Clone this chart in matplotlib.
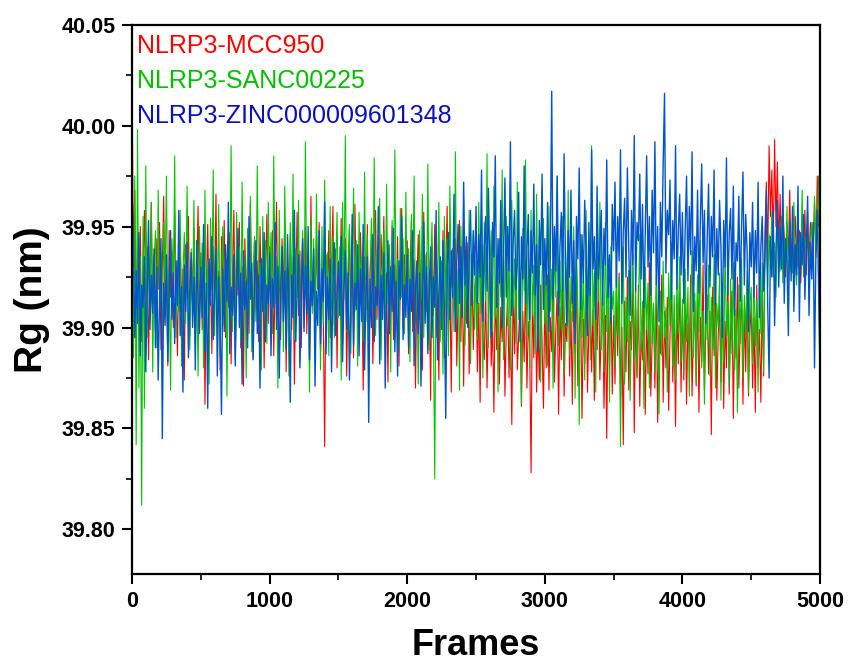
import numpy as np
import matplotlib
matplotlib.use("Agg")
import matplotlib.pyplot as plt
from matplotlib.ticker import MultipleLocator

plt.rcParams['font.family'] = ['Liberation Sans', 'DejaVu Sans']

frames = np.arange(0, 5001, 10)

rg_mcc950 = [
    40.022, 39.935, 39.968, 39.902, 39.945, 39.912, 39.950, 39.893, 39.931, 39.958,
    39.905, 39.940, 39.884, 39.927, 39.962, 39.910, 39.936, 39.898, 39.944, 39.919,
    39.952, 39.889, 39.930, 39.965, 39.907, 39.925, 39.881, 39.948, 39.915, 39.938,
    39.900, 39.957, 39.921, 39.886, 39.934, 39.946, 39.909, 39.929, 39.874, 39.941,
    39.917, 39.955, 39.896, 39.933, 39.911, 39.949, 39.892, 39.926, 39.960, 39.904,
    39.937, 39.899, 39.943, 39.862, 39.918, 39.951, 39.906, 39.932, 39.887, 39.940,
    39.913, 39.966, 39.901, 39.928, 39.879, 39.945, 39.920, 39.953, 39.895, 39.934,
    39.910, 39.947, 39.882, 39.926, 39.958, 39.903, 39.939, 39.916, 39.952, 39.890,
    39.930, 39.871, 39.944, 39.912, 39.936, 39.897, 39.961, 39.921, 39.885, 39.942,
    39.908, 39.933, 39.893, 39.950, 39.915, 39.938, 39.880, 39.927, 39.956, 39.902,
    39.940, 39.911, 39.948, 39.886, 39.925, 39.962, 39.904, 39.931, 39.894, 39.944,
    39.917, 39.953, 39.878, 39.929, 39.908, 39.946, 39.899, 39.935, 39.872, 39.921,
    39.957, 39.906, 39.938, 39.890, 39.942, 39.914, 39.950, 39.897, 39.927, 39.883,
    39.965, 39.910, 39.934, 39.893, 39.945, 39.919, 39.952, 39.888, 39.930, 39.905,
    39.841, 39.936, 39.912, 39.948, 39.895, 39.926, 39.960, 39.901, 39.939, 39.880,
    39.933, 39.907, 39.954, 39.891, 39.928, 39.944, 39.876, 39.918, 39.949, 39.902,
    39.937, 39.885, 39.961, 39.913, 39.930, 39.896, 39.947, 39.921, 39.869, 39.935,
    39.909, 39.951, 39.893, 39.926, 39.942, 39.882, 39.916, 39.958, 39.904, 39.932,
    39.889, 39.946, 39.920, 39.955, 39.898, 39.927, 39.873, 39.940, 39.911, 39.950,
    39.894, 39.931, 39.906, 39.945, 39.881, 39.923, 39.959, 39.900, 39.936, 39.914,
    39.943, 39.887, 39.926, 39.952, 39.898, 39.934, 39.870, 39.919, 39.946, 39.904,
    39.929, 39.879, 39.957, 39.910, 39.937, 39.892, 39.924, 39.864, 39.941, 39.906,
    39.951, 39.895, 39.918, 39.874, 39.935, 39.903, 39.948, 39.885, 39.927, 39.960,
    39.899, 39.921, 39.868, 39.939, 39.908, 39.944, 39.881, 39.916, 39.953, 39.893,
    39.930, 39.871, 39.923, 39.902, 39.942, 39.877, 39.913, 39.936, 39.889, 39.920,
    39.925, 39.878, 39.912, 39.863, 39.931, 39.895, 39.884, 39.918, 39.870, 39.906,
    39.939, 39.881, 39.902, 39.858, 39.920, 39.889, 39.927, 39.872, 39.910, 39.893,
    39.934, 39.866, 39.899, 39.916, 39.875, 39.905, 39.852, 39.922, 39.887, 39.930,
    39.879, 39.896, 39.913, 39.861, 39.908, 39.883, 39.924, 39.870, 39.903, 39.891,
    39.828, 39.917, 39.885, 39.929, 39.868, 39.901, 39.874, 39.921, 39.892, 39.860,
    39.914, 39.880, 39.926, 39.869, 39.905, 39.888, 39.932, 39.873, 39.899, 39.918,
    39.857, 39.910, 39.884, 39.924, 39.866, 39.902, 39.893, 39.936, 39.876, 39.908,
    39.862, 39.919, 39.887, 39.928, 39.871, 39.897, 39.912, 39.855, 39.904, 39.882,
    39.930, 39.868, 39.900, 39.921, 39.878, 39.909, 39.864, 39.915, 39.889, 39.927,
    39.874, 39.898, 39.917, 39.860, 39.906, 39.845, 39.911, 39.881, 39.923, 39.867,
    39.906, 39.872, 39.918, 39.886, 39.927, 39.864, 39.900, 39.842, 39.913, 39.878,
    39.925, 39.869, 39.903, 39.889, 39.930, 39.848, 39.909, 39.875, 39.921, 39.861,
    39.898, 39.884, 39.916, 39.857, 39.905, 39.877, 39.932, 39.866, 39.894, 39.912,
    39.870, 39.920, 39.853, 39.901, 39.887, 39.926, 39.863, 39.908, 39.880, 39.915,
    39.859, 39.897, 39.922, 39.873, 39.904, 39.851, 39.911, 39.882, 39.928, 39.868,
    39.910, 39.874, 39.919, 39.862, 39.902, 39.888, 39.926, 39.866, 39.898, 39.913,
    39.871, 39.924, 39.858, 39.905, 39.883, 39.931, 39.869, 39.900, 39.916, 39.877,
    39.908, 39.847, 39.920, 39.886, 39.929, 39.864, 39.896, 39.911, 39.873, 39.922,
    39.860, 39.903, 39.880, 39.927, 39.867, 39.899, 39.918, 39.855, 39.906, 39.885,
    39.925, 39.870, 39.901, 39.914, 39.862, 39.909, 39.878, 39.923, 39.866, 39.897,
    39.912, 39.870, 39.905, 39.858, 39.921, 39.880, 39.899, 39.863, 39.915, 39.876,
    39.948, 39.972, 39.935, 39.990, 39.955, 39.978, 39.940, 39.993, 39.950, 39.982,
    39.938, 39.966, 39.930, 39.958, 39.945, 39.925, 39.952, 39.935, 39.968, 39.928,
    39.945, 39.920, 39.955, 39.938, 39.930, 39.948, 39.922, 39.942, 39.935, 39.958,
    39.926, 39.947, 39.933, 39.952, 39.928, 39.940, 39.962, 39.935, 39.975, 39.950,
    39.985,
]

rg_sanc00225 = [
    39.960, 39.885, 39.975, 39.842, 39.998, 39.870, 39.935, 39.812, 39.955, 39.860,
    39.980, 39.895, 39.940, 39.905, 39.962, 39.878, 39.930, 39.948, 39.890, 39.968,
    39.912, 39.937, 39.883, 39.952, 39.920, 39.975, 39.900, 39.929, 39.869, 39.944,
    39.916, 39.985, 39.895, 39.933, 39.908, 39.958, 39.881, 39.926, 39.947, 39.902,
    39.970, 39.917, 39.889, 39.939, 39.910, 39.963, 39.893, 39.928, 39.876, 39.950,
    39.915, 39.942, 39.880, 39.968, 39.905, 39.931, 39.872, 39.954, 39.919, 39.978,
    39.896, 39.936, 39.909, 39.961, 39.886, 39.925, 39.950, 39.901, 39.938, 39.866,
    39.946, 39.914, 39.990, 39.898, 39.929, 39.884, 39.957, 39.920, 39.940, 39.893,
    39.972, 39.911, 39.934, 39.875, 39.949, 39.906, 39.965, 39.888, 39.927, 39.945,
    39.903, 39.980, 39.916, 39.932, 39.879, 39.955, 39.908, 39.943, 39.892, 39.962,
    39.921, 39.947, 39.897, 39.985, 39.912, 39.935, 39.870, 39.958, 39.904, 39.940,
    39.888, 39.970, 39.918, 39.930, 39.876, 39.952, 39.910, 39.976, 39.894, 39.939,
    39.915, 39.963, 39.883, 39.926, 39.948, 39.900, 39.992, 39.913, 39.936, 39.868,
    39.955, 39.907, 39.944, 39.890, 39.966, 39.919, 39.931, 39.879, 39.950, 39.902,
    39.973, 39.916, 39.937, 39.886, 39.960, 39.909, 39.945, 39.895, 39.928, 39.957,
    39.905, 39.940, 39.874, 39.962, 39.914, 39.995, 39.898, 39.932, 39.951, 39.887,
    39.926, 39.969, 39.908, 39.943, 39.881, 39.957, 39.917, 39.935, 39.893, 39.977,
    39.903, 39.946, 39.871, 39.929, 39.954, 39.910, 39.984, 39.896, 39.938, 39.919,
    39.964, 39.884, 39.930, 39.948, 39.900, 39.971, 39.912, 39.941, 39.878, 39.953,
    39.922, 39.988, 39.906, 39.934, 39.889, 39.959, 39.915, 39.944, 39.897, 39.967,
    39.911, 39.939, 39.883, 39.956, 39.918, 39.975, 39.902, 39.930, 39.872, 39.948,
    39.914, 39.966, 39.895, 39.936, 39.908, 39.981, 39.889, 39.927, 39.952, 39.900,
    39.825, 39.942, 39.916, 39.962, 39.893, 39.933, 39.877, 39.955, 39.909, 39.944,
    39.886, 39.970, 39.920, 39.937, 39.898, 39.987, 39.905, 39.929, 39.869, 39.950,
    39.912, 39.964, 39.891, 39.940, 39.903, 39.958, 39.882, 39.925, 39.946, 39.899,
    39.933, 39.894, 39.962, 39.907, 39.941, 39.875, 39.952, 39.913, 39.986, 39.890,
    39.928, 39.948, 39.898, 39.970, 39.905, 39.936, 39.868, 39.944, 39.915, 39.978,
    39.884, 39.930, 39.955, 39.901, 39.940, 39.879, 39.963, 39.910, 39.934, 39.892,
    39.972, 39.904, 39.927, 39.862, 39.949, 39.918, 39.983, 39.896, 39.938, 39.880,
    39.958, 39.906, 39.931, 39.887, 39.966, 39.911, 39.945, 39.873, 39.926, 39.954,
    39.902, 39.937, 39.881, 39.960, 39.908, 39.929, 39.870, 39.948, 39.915, 39.975,
    39.891, 39.933, 39.899, 39.955, 39.877, 39.942, 39.910, 39.968, 39.886, 39.925,
    39.903, 39.950, 39.865, 39.938, 39.912, 39.852, 39.946, 39.895, 39.930, 39.874,
    39.958, 39.906, 39.935, 39.884, 39.990, 39.901, 39.927, 39.868, 39.944, 39.913,
    39.962, 39.889, 39.921, 39.878, 39.952, 39.898, 39.934, 39.863, 39.940, 39.909,
    39.918, 39.880, 39.932, 39.896, 39.925, 39.841, 39.910, 39.940, 39.872, 39.915,
    39.893, 39.928, 39.864, 39.905, 39.936, 39.884, 39.920, 39.876, 39.908, 39.946,
    39.889, 39.913, 39.860, 39.930, 39.899, 39.922, 39.870, 39.938, 39.892, 39.912,
    39.878, 39.926, 39.904, 39.857, 39.918, 39.886, 39.933, 39.895, 39.910, 39.868,
    39.927, 39.901, 39.942, 39.881, 39.916, 39.874, 39.924, 39.897, 39.935, 39.883,
    39.914, 39.877, 39.929, 39.893, 39.920, 39.866, 39.911, 39.938, 39.885, 39.917,
    39.873, 39.926, 39.898, 39.943, 39.880, 39.908, 39.862, 39.922, 39.894, 39.931,
    39.876, 39.915, 39.889, 39.936, 39.870, 39.912, 39.900, 39.927, 39.864, 39.919,
    39.883, 39.940, 39.896, 39.913, 39.871, 39.924, 39.887, 39.932, 39.879, 39.909,
    39.858, 39.921, 39.892, 39.934, 39.875, 39.916, 39.897, 39.928, 39.868, 39.911,
    39.920, 39.882, 39.929, 39.891, 39.914, 39.868, 39.925, 39.897, 39.932, 39.878,
    39.935, 39.952, 39.920, 39.946, 39.930, 39.958, 39.925, 39.942, 39.915, 39.950,
    39.936, 39.928, 39.955, 39.922, 39.944, 39.932, 39.960, 39.918, 39.948, 39.938,
    39.927, 39.962, 39.935, 39.921, 39.950, 39.940, 39.930, 39.968, 39.925, 39.945,
    39.936, 39.958, 39.928, 39.942, 39.952, 39.930, 39.965, 39.938, 39.948, 39.975,
    39.835,
]

rg_zinc = [
    39.968, 39.940, 39.895, 39.928, 39.902, 39.947, 39.886, 39.921, 39.910, 39.935,
    39.878, 39.918, 39.953, 39.899, 39.926, 39.907, 39.939, 39.890, 39.930, 39.874,
    39.914, 39.944, 39.845, 39.922, 39.901, 39.936, 39.883, 39.919, 39.948, 39.904,
    39.927, 39.892, 39.933, 39.911, 39.958, 39.896, 39.920, 39.868, 39.931, 39.908,
    39.942, 39.885, 39.916, 39.937, 39.900, 39.925, 39.879, 39.943, 39.912, 39.897,
    39.930, 39.905, 39.951, 39.888, 39.922, 39.860, 39.934, 39.911, 39.945, 39.894,
    39.918, 39.939, 39.876, 39.925, 39.903, 39.857, 39.929, 39.898, 39.941, 39.913,
    39.962, 39.887, 39.920, 39.906, 39.936, 39.881, 39.915, 39.949, 39.900, 39.927,
    39.872, 39.938, 39.909, 39.923, 39.890, 39.955, 39.914, 39.932, 39.884, 39.919,
    39.943, 39.897, 39.926, 39.870, 39.934, 39.908, 39.947, 39.893, 39.921, 39.912,
    39.937, 39.886, 39.924, 39.910, 39.952, 39.899, 39.930, 39.875, 39.917, 39.940,
    39.903, 39.928, 39.889, 39.946, 39.912, 39.863, 39.926, 39.905, 39.958, 39.893,
    39.920, 39.936, 39.880, 39.915, 39.944, 39.898, 39.931, 39.907, 39.950, 39.884,
    39.923, 39.911, 39.939, 39.871, 39.918, 39.901, 39.948, 39.892, 39.929, 39.913,
    39.962, 39.887, 39.925, 39.904, 39.934, 39.878, 39.921, 39.942, 39.896, 39.916,
    39.932, 39.906, 39.945, 39.883, 39.919, 39.938, 39.899, 39.927, 39.874, 39.913,
    39.956, 39.891, 39.922, 39.909, 39.941, 39.886, 39.929, 39.903, 39.951, 39.879,
    39.917, 39.935, 39.853, 39.924, 39.900, 39.946, 39.893, 39.920, 39.911, 39.960,
    39.882, 39.926, 39.904, 39.937, 39.870, 39.915, 39.943, 39.897, 39.930, 39.908,
    39.949, 39.888, 39.923, 39.876, 39.933, 39.914, 39.955, 39.894, 39.921, 39.905,
    39.936, 39.890, 39.924, 39.908, 39.948, 39.881, 39.919, 39.933, 39.897, 39.927,
    39.871, 39.914, 39.952, 39.902, 39.930, 39.887, 39.921, 39.940, 39.895, 39.925,
    39.910, 39.958, 39.884, 39.918, 39.935, 39.899, 39.943, 39.906, 39.855, 39.929,
    39.947, 39.904, 39.938, 39.915, 39.966, 39.898, 39.932, 39.951, 39.912, 39.940,
    39.905, 39.972, 39.921, 39.945, 39.900, 39.937, 39.958, 39.911, 39.948, 39.926,
    39.960, 39.912, 39.946, 39.925, 39.978, 39.903, 39.940, 39.955, 39.918, 39.969,
    39.930, 39.895, 39.952, 39.935, 39.985, 39.910, 39.944, 39.922, 39.963, 39.900,
    39.938, 39.974, 39.915, 39.950, 39.928, 39.992, 39.906, 39.942, 39.958, 39.919,
    39.933, 39.967, 39.893, 39.945, 39.924, 39.980, 39.912, 39.939, 39.956, 39.904,
    39.948, 39.927, 39.971, 39.916, 39.941, 39.888, 39.953, 39.931, 39.976, 39.909,
    39.944, 39.921, 39.962, 39.898, 39.937, 40.017, 39.914, 39.950, 39.928, 39.975,
    39.906, 39.940, 39.957, 39.918, 39.986, 39.932, 39.901, 39.948, 39.925, 39.968,
    39.912, 39.943, 39.892, 39.955, 39.934, 39.979, 39.909, 39.946, 39.922, 39.963,
    39.937, 39.896, 39.952, 39.916, 39.988, 39.929, 39.945, 39.904, 39.970, 39.924,
    39.940, 39.958, 39.911, 39.949, 39.931, 39.983, 39.915, 39.936, 39.902, 39.961,
    39.938, 39.972, 39.920, 39.955, 39.933, 39.988, 39.912, 39.947, 39.964, 39.925,
    39.979, 39.940, 39.906, 39.958, 39.931, 39.995, 39.918, 39.952, 39.943, 39.976,
    39.924, 39.961, 39.910, 39.949, 39.985, 39.930, 39.955, 39.916, 39.968, 39.937,
    39.992, 39.921, 39.950, 39.903, 39.962, 39.935, 39.981, 40.016, 39.927, 39.958,
    39.946, 39.973, 39.914, 39.953, 39.934, 39.990, 39.919, 39.948, 39.966, 39.926,
    39.957, 39.912, 39.948, 39.975, 39.923, 39.960, 39.936, 39.987, 39.908, 39.945,
    39.928, 39.968, 39.917, 39.952, 39.981, 39.932, 39.958, 39.902, 39.944, 39.971,
    39.920, 39.955, 39.935, 39.978, 39.911, 39.949, 39.926, 39.963, 39.940, 39.895,
    39.953, 39.930, 39.984, 39.916, 39.946, 39.959, 39.924, 39.970, 39.906, 39.942,
    39.933, 39.965, 39.913, 39.950, 39.977, 39.921, 39.956, 39.938, 39.898, 39.947,
    39.930, 39.962, 39.915, 39.948, 39.927, 39.972, 39.905, 39.940, 39.955, 39.918,
    39.935, 39.968, 39.910, 39.875, 39.945, 39.925, 39.958, 39.901, 39.938, 39.963,
    39.920, 39.950, 39.929, 39.975, 39.912, 39.944, 39.932, 39.896, 39.953, 39.923,
    39.960, 39.908, 39.941, 39.926, 39.970, 39.903, 39.947, 39.931, 39.956, 39.914,
    39.938, 39.965, 39.906, 39.942, 39.924, 39.952, 39.880, 39.936, 39.958, 39.918,
    39.878,
]

names = ["NLRP3-MCC950", "NLRP3-SANC00225", "NLRP3-ZINC000009601348"]
line_colors = ["#ff0000", "#00c800", "#0055cc"]
line_widths = [0.8, 0.8, 1.0]
text_colors = ["#ff0000", "#00c000", "#0a10c0"]

fig = plt.figure(figsize=(8.48, 6.65), dpi=100)
ax = fig.add_axes([0.1557, 0.137, 0.8113, 0.826])

for series, c, lw in zip([rg_mcc950, rg_sanc00225, rg_zinc], line_colors, line_widths):
    ax.plot(frames, series, color=c, linewidth=lw)

for i, (name, c) in enumerate(zip(names, text_colors)):
    ax.text(0.007, 0.948 - i * 0.064, name, color=c, fontsize=18,
            transform=ax.transAxes, va='baseline', ha='left')

ax.set_xlim(0, 5000)
ax.set_ylim(39.778, 40.05)
ax.xaxis.set_major_locator(MultipleLocator(1000))
ax.xaxis.set_minor_locator(MultipleLocator(500))
ax.yaxis.set_major_locator(MultipleLocator(0.05))
ax.yaxis.set_minor_locator(MultipleLocator(0.025))
ax.yaxis.set_major_formatter(plt.FormatStrFormatter('%.2f'))

ax.tick_params(which='major', direction='out', length=7, width=1.5, pad=5,
               labelsize=15.5, top=False, right=False)
ax.tick_params(which='minor', direction='out', length=4, width=1.2,
               top=False, right=False)
for lab in ax.get_xticklabels() + ax.get_yticklabels():
    lab.set_fontweight('bold')
for sp in ax.spines.values():
    sp.set_linewidth(1.6)

ax.set_xlabel("Frames", fontsize=26, fontweight='bold', labelpad=12)
ax.set_ylabel("Rg (nm)", fontsize=28, fontweight='bold', labelpad=8)

fig.savefig("out.png", dpi=100)
